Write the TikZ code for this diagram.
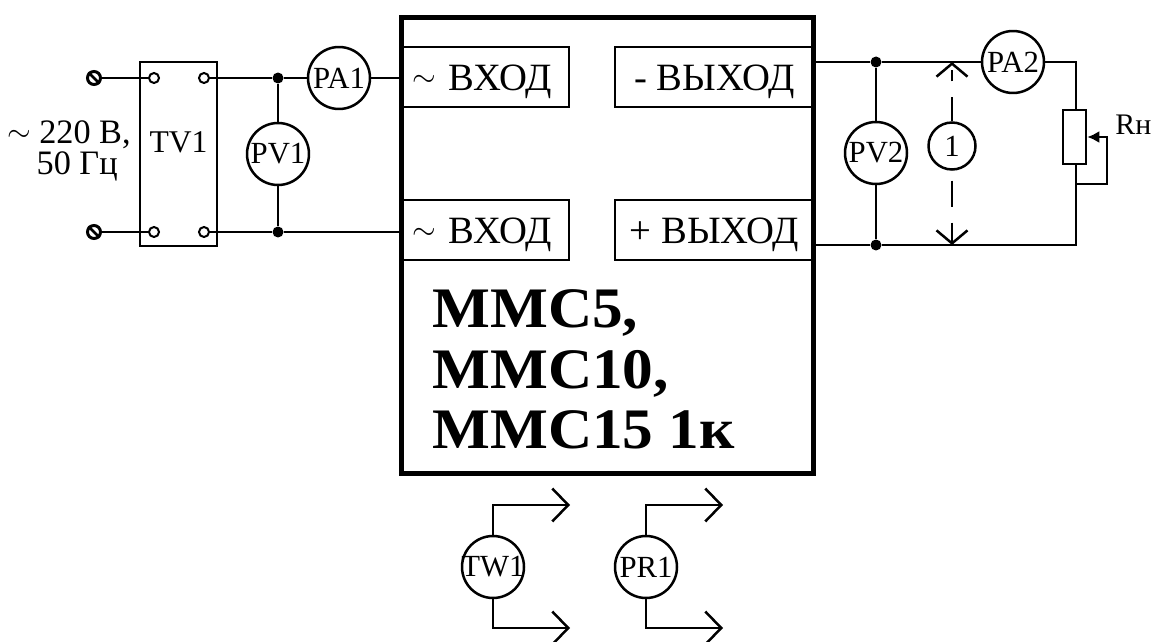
\documentclass[tikz,border=0pt]{standalone}
\usepackage{fontspec}
\setmainfont{Liberation Serif}
\newfontfamily\namefont[FakeStretch=1.07]{Liberation Serif}
\newcommand{\acsign}[1]{\raisebox{#1}{\fontsize{17}{19}\selectfont$\sim$}}
\usetikzlibrary{arrows.meta,positioning}

\begin{document}
\begin{tikzpicture}[
			x = 0.02cm, y = -0.02cm,
			wire/.style = {line width = 0.05cm},
			meter/.style = {circle,draw,line width = 0.05cm,fill = white,minimum size = 1.24cm,inner sep = -0.3cm,font = \fontsize{17.5}{19}\selectfont},
			port/.style = {rectangle,draw,line width = 0.05cm,minimum height = 1.2cm,inner ysep = 0pt,text height = 0.56cm,text depth = 0cm,font = \fontsize{22}{24}\selectfont},
			portin/.style = {port,inner xsep = 0.22cm,text width = 2.92cm,align = left},
			portout/.style = {port,minimum width = 3.98cm,align = center},
			dot/.style = {circle,fill = black,minimum size = 0.22cm,inner sep = 0pt},
			pin/.style = {circle,draw,line width = 0.04cm,fill = white,minimum size = 0.2cm,inner sep = 0pt},
			clamp/.style = {circle,draw,line width = 0.06cm,fill = white,minimum size = 0.26cm,inner sep = 0pt},
			open/.style = {-{Straight Barb[length = 0.32cm,width = 0.66cm,line width = 0.05cm]}},
			opensize/.style = {-{Straight Barb[length = 0.26cm,width = 0.62cm,line width = 0.05cm]}}
			]
			\useasboundingbox (0,0) rectangle (1160,642);

			% main block
			\node[rectangle,draw,line width = 0.1cm,minimum width = 8.26cm,minimum height = 9.14cm,inner sep = 0pt] (mms) at (607.5,245.5) {};
			\node[portin] (inA) at (485,77) {\acsign{0.09cm} ВХОД};
			\node[portin] (inB) at (485,230) {\acsign{0.09cm} ВХОД};
			\node[portout] (outA) at (714.5,77) {- ВЫХОД};
			\node[portout] (outB) at (714.5,230) {+ ВЫХОД};
			\node[anchor = north west,align = left,inner sep = 0pt,font = \fontsize{32.6}{34.6}\namefont\bfseries\selectfont] (name) at (432,289) {ММС5,\\ММС10,\\ММС15 1к};

			% input side
			\node[rectangle,draw,line width = 0.05cm,minimum width = 1.54cm,minimum height = 3.68cm,inner sep = 0pt,text height = 0.2cm,text depth = 0.28cm,font = \fontsize{18}{19}\selectfont] (tv) at (178.5,154) {TV1};
			\node[clamp] (clA) at (94,78) {};
			\node[clamp] (clB) at (94,232) {};
			\node[pin] (tvA) at (154,78) {};
			\node[pin] (tvB) at (204,78) {};
			\node[pin] (tvC) at (154,232) {};
			\node[pin] (tvD) at (204,232) {};
			\node[dot] (jA) at (278,78) {};
			\node[dot] (jB) at (278,232) {};
			\node[meter] (pa1) at (339,78) {PA1};
			\node[meter] (pv1) at (278,154) {PV1};
			\node[anchor = east,align = right,inner sep = 0pt,font = \fontsize{19.5}{17.6}\selectfont] (mains) at (131,151) {\acsign{0.05cm} 220 В,\\50 Гц\rule{0.26cm}{0pt}};
			\coordinate (inAw) at (401,78);
			\coordinate (inBw) at (401,232);

			\draw[wire] (clA) -- (tvA);
			\draw[wire] (clB) -- (tvC);
			\draw[wire] (tvB) -- (jA) -- (pa1) -- (inAw);
			\draw[wire] (tvD) -- (jB) -- (inBw);
			\draw[wire] (jA) -- (pv1) -- (jB);
			\draw[line width = 0.05cm] (clA.north west) -- (clA.south east);
			\draw[line width = 0.05cm] (clB.north west) -- (clB.south east);

			% output side
			\coordinate (outAw) at (814,62);
			\coordinate (outBw) at (814,245);
			\coordinate (cornA) at (1076,62);
			\coordinate (cornB) at (1076,245);
			\coordinate (tapA) at (1076,184);
			\coordinate (tapB) at (1107,184);
			\coordinate (tapC) at (1107,137);
			\coordinate (sizeA) at (952,62);
			\coordinate (sizeB) at (952,245);
			\node[dot] (jC) at (876,62) {};
			\node[dot] (jD) at (876,245) {};
			\node[meter] (pv2) at (876,153) {PV2};
			\node[meter] (pa2) at (1013,62) {PA2};
			\node[meter,minimum size = 0.94cm] (one) at (952,146) {1};
			\node[rectangle,draw,line width = 0.05cm,fill = white,minimum width = 0.46cm,minimum height = 1.08cm,inner sep = 0pt] (rn) at (1074.5,137) {};
			\node[anchor = west,inner sep = 0pt,font = \fontsize{17}{19}\selectfont] (rnlab) at (1115,125) {Rн};

			\draw[wire] (outAw) -- (jC) -- (pa2) -- (cornA) -- (rn.north -| cornA);
			\draw[wire] (rn.south -| cornA) -- (cornB) -- (jD) -- (outBw);
			\draw[wire] (jC) -- (pv2) -- (jD);
			\draw[wire,-{Latex[length = 0.24cm,width = 0.24cm]}] (tapA) -- (tapB) -- (tapC) -- (tapC -| rn.east);
			\draw[wire,dash pattern = on 0.48cm off 0.32cm on 0.22cm off 1cm,opensize] (one) -- (sizeA);
			\draw[wire,dash pattern = on 0cm off 0.2cm on 0.52cm off 0.32cm on 0.5cm off 1cm,opensize] (one) -- (sizeB);

			% bottom meters
			\node[meter] (tw1) at (493,567) {TW1};
			\node[meter] (pr1) at (646,567) {PR1};
			\coordinate (twA) at (493,505);
			\coordinate (twB) at (493,628);
			\coordinate (prA) at (646,505);
			\coordinate (prB) at (646,628);
			\coordinate (twC) at (570,505);
			\coordinate (twD) at (570,628);
			\coordinate (prC) at (723,505);
			\coordinate (prD) at (723,628);

			\draw[wire,open] (tw1) -- (twA) -- (twC);
			\draw[wire,open] (tw1) -- (twB) -- (twD);
			\draw[wire,open] (pr1) -- (prA) -- (prC);
			\draw[wire,open] (pr1) -- (prB) -- (prD);
		\end{tikzpicture}
\end{document}
